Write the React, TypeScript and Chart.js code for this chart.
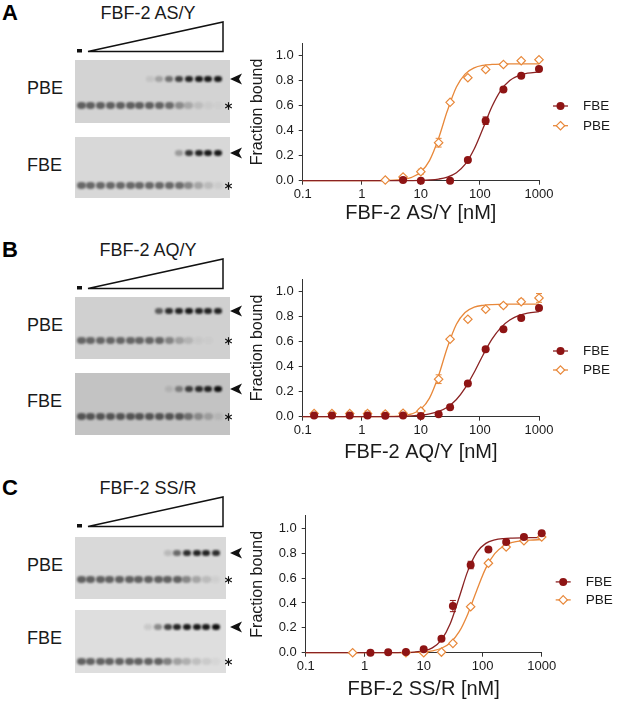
import React, { useEffect, useRef } from 'react';
import { Chart, registerables } from 'chart.js';

Chart.register(...registerables);

const FONT = '"Liberation Sans", Arial, Helvetica, sans-serif';
const TEXT = '#1a1a1a';
const FBE_COLOR = '#8e1414';
const FBE_LINE = '#8a2222';
const PBE_COLOR = '#e8883a';

// ---------------- chart data ----------------
const xTicks = [0.1, 1, 10, 100, 1000];
const fitX = [0.1, 1, 3, 5, 7, 10, 14, 20, 28, 40, 56, 80, 113, 160, 226, 320, 450, 640, 1000];

// Panel A: FBF-2 AS/Y
const concA_FBE = [5, 10, 31.25, 62.5, 125, 250, 500, 1000];
const boundA_FBE = [0.005, 0, 0, 0.165, 0.48, 0.73, 0.84, 0.893];
const errA_FBE = [0, 0, 0, 0.012, 0.03, 0.012, 0.01, 0.01];
const concA_PBE = [2.5, 5, 10, 20, 31.25, 62.5, 125, 250, 500, 1000];
const boundA_PBE = [0.005, 0.03, 0.072, 0.304, 0.627, 0.824, 0.89, 0.93, 0.96, 0.968];
const errA_PBE = [0, 0.012, 0.02, 0.035, 0.012, 0.01, 0.01, 0.01, 0.01, 0.01];
const fitA_FBE = [0, 0, 0.0002, 0.0005, 0.0011, 0.0025, 0.0057, 0.0131, 0.0285, 0.0638, 0.13, 0.253, 0.419, 0.593, 0.723, 0.801, 0.84, 0.86, 0.87];
const fitA_PBE = [0, 0.0001, 0.0025, 0.0106, 0.0269, 0.0699, 0.161, 0.34, 0.557, 0.749, 0.853, 0.903, 0.923, 0.93, 0.933, 0.934, 0.935, 0.935, 0.935];

// Panel B: FBF-2 AQ/Y
const concB = [0.156, 0.3125, 0.625, 1.25, 2.5, 5, 10, 20, 31.25, 62.5, 125, 250, 500, 1000];
const boundB_FBE = [0.01, 0.01, 0.01, 0.01, 0.008, 0.01, 0.005, 0.02, 0.075, 0.265, 0.54, 0.7, 0.79, 0.87];
const errB_FBE = [0, 0, 0, 0, 0, 0, 0, 0, 0.01, 0.012, 0.012, 0.01, 0.01, 0.012];
const boundB_PBE = [0.025, 0.025, 0.025, 0.025, 0.022, 0.028, 0.045, 0.3, 0.62, 0.78, 0.86, 0.89, 0.92, 0.95];
const errB_PBE = [0.01, 0.012, 0.012, 0.02, 0.015, 0.015, 0.015, 0.035, 0.01, 0.01, 0.01, 0.015, 0.02, 0.035];
const fitB_FBE = [0, 0.0002, 0.0012, 0.0031, 0.006, 0.0117, 0.0218, 0.0419, 0.076, 0.1376, 0.228, 0.356, 0.494, 0.62, 0.713, 0.773, 0.808, 0.828, 0.84];
const fitB_PBE = [0, 0.0001, 0.0018, 0.0081, 0.0218, 0.0607, 0.149, 0.33, 0.552, 0.74, 0.834, 0.876, 0.891, 0.897, 0.899, 0.9, 0.9, 0.9, 0.9];

// Panel C: FBF-2 SS/R
const concC_FBE = [1.25, 2.5, 5, 10, 20, 31.25, 62.5, 125, 250, 500, 1000];
const boundC_FBE = [0, 0.003, 0.005, 0.027, 0.113, 0.375, 0.705, 0.83, 0.89, 0.93, 0.96];
const errC_FBE = [0, 0, 0, 0.01, 0.015, 0.045, 0.03, 0.012, 0.01, 0.01, 0.01];
const concC_PBE = [0.625, 5, 10, 20, 31.25, 62.5, 125, 250, 500, 1000];
const boundC_PBE = [0, 0, 0, 0.005, 0.075, 0.37, 0.72, 0.85, 0.9, 0.93];
const errC_PBE = [0, 0, 0, 0, 0.01, 0.012, 0.012, 0.012, 0.01, 0.01];
const fitC_FBE = [0, 0, 0.0005, 0.002, 0.0054, 0.0152, 0.039, 0.103, 0.23, 0.446, 0.658, 0.809, 0.879, 0.907, 0.918, 0.922, 0.924, 0.925, 0.925];
const fitC_PBE = [0, 0, 0.0003, 0.0012, 0.0028, 0.0067, 0.0152, 0.0359, 0.0784, 0.169, 0.312, 0.507, 0.68, 0.796, 0.858, 0.887, 0.9, 0.906, 0.909];

// ---------------- gel band intensities (15 lanes) ----------------
const gelA_PBE_bound = [0, 0, 0, 0, 0, 0, 0, 0.08, 0.25, 0.5, 0.75, 0.9, 0.95, 0.95, 0.95];
const gelA_PBE_free = [0.8, 0.8, 0.8, 0.8, 0.8, 0.8, 0.8, 0.8, 0.78, 0.72, 0.5, 0.3, 0.15, 0.06, 0.03];
const gelA_FBE_bound = [0, 0, 0, 0, 0, 0, 0, 0, 0, 0, 0.3, 0.8, 0.9, 0.95, 0.95];
const gelA_FBE_free = [0.75, 0.75, 0.75, 0.75, 0.75, 0.75, 0.75, 0.75, 0.75, 0.75, 0.72, 0.55, 0.35, 0.2, 0.08];
const gelB_PBE_bound = [0, 0, 0, 0, 0, 0, 0, 0, 0.6, 0.85, 0.9, 0.95, 0.9, 0.9, 0.9];
const gelB_PBE_free = [0.75, 0.75, 0.75, 0.75, 0.75, 0.75, 0.75, 0.75, 0.75, 0.55, 0.35, 0.2, 0.06, 0.03, 0];
const gelB_FBE_bound = [0, 0, 0, 0, 0, 0, 0, 0, 0, 0.1, 0.4, 0.75, 0.85, 0.9, 1];
const gelB_FBE_free = [0.85, 0.85, 0.85, 0.85, 0.85, 0.85, 0.85, 0.85, 0.85, 0.85, 0.85, 0.65, 0.45, 0.3, 0.1];
const gelC_PBE_bound = [0, 0, 0, 0, 0, 0, 0, 0, 0, 0.15, 0.55, 0.85, 0.9, 0.9, 0.85];
const gelC_PBE_free = [0.8, 0.8, 0.8, 0.8, 0.8, 0.8, 0.8, 0.8, 0.8, 0.8, 0.8, 0.55, 0.35, 0.2, 0.06];
const gelC_FBE_bound = [0, 0, 0, 0, 0, 0, 0, 0.1, 0.4, 0.75, 0.9, 0.95, 0.95, 0.95, 1];
const gelC_FBE_free = [0.8, 0.8, 0.8, 0.8, 0.8, 0.8, 0.8, 0.8, 0.8, 0.6, 0.4, 0.3, 0.2, 0.12, 0.05];

// ---------------- helpers ----------------
const pts = (xs: number[], ys: number[]) => xs.map((x, i) => ({ x, y: ys[i] }));

const errorBarPlugin = {
  id: 'errorBars',
  beforeDatasetDraw(chart: any, args: any) {
    const ds = chart.data.datasets[args.index];
    const errs: number[] | undefined = ds.errors;
    if (!errs) return;
    const { ctx } = chart;
    const xs = chart.scales.x;
    const ys = chart.scales.y;
    ctx.save();
    ctx.strokeStyle = ds.borderColor;
    ctx.lineWidth = 1;
    ds.data.forEach((p: any, i: number) => {
      const e = errs[i];
      if (!e) return;
      const px = xs.getPixelForValue(p.x);
      const y1 = ys.getPixelForValue(p.y + e);
      const y2 = ys.getPixelForValue(p.y - e);
      ctx.beginPath();
      ctx.moveTo(px, y1);
      ctx.lineTo(px, y2);
      ctx.moveTo(px - 3, y1);
      ctx.lineTo(px + 3, y1);
      ctx.moveTo(px - 3, y2);
      ctx.lineTo(px + 3, y2);
      ctx.stroke();
    });
    ctx.restore();
  },
};

const sideLegendPlugin = {
  id: 'sideLegend',
  afterDraw(chart: any, _args: any, opts: any) {
    const { ctx, chartArea } = chart;
    (opts.items || []).forEach((item: any) => {
      const pds = chart.data.datasets[item.points];
      const lds = chart.data.datasets[item.line];
      const y = chartArea.top + item.dy;
      const x0 = chartArea.right + 14;
      const cx = x0 + 7.5;
      ctx.save();
      ctx.strokeStyle = lds.borderColor;
      ctx.lineWidth = 1.3;
      ctx.beginPath();
      ctx.moveTo(x0, y);
      ctx.lineTo(x0 + 15, y);
      ctx.stroke();
      if (pds.pointStyle === 'circle') {
        ctx.fillStyle = pds.backgroundColor;
        ctx.beginPath();
        ctx.arc(cx, y, pds.pointRadius, 0, Math.PI * 2);
        ctx.fill();
      } else {
        const r = pds.pointRadius;
        ctx.fillStyle = pds.backgroundColor;
        ctx.strokeStyle = pds.borderColor;
        ctx.lineWidth = pds.borderWidth;
        ctx.beginPath();
        ctx.moveTo(cx, y - r);
        ctx.lineTo(cx + r, y);
        ctx.lineTo(cx, y + r);
        ctx.lineTo(cx - r, y);
        ctx.closePath();
        ctx.fill();
        ctx.stroke();
      }
      ctx.fillStyle = TEXT;
      ctx.font = `13.5px ${FONT}`;
      ctx.textBaseline = 'middle';
      ctx.textAlign = 'left';
      ctx.fillText(pds.label, chartArea.right + 44, y + 0.5);
      ctx.restore();
    });
  },
};

type ChartProps = {
  left: number;
  top: number;
  width: number;
  height: number;
  yw: number;
  padTop: number;
  padRight: number;
  xh: number;
  title: string;
  fbe: { x: number; y: number }[];
  fbeErr: number[];
  pbe: { x: number; y: number }[];
  pbeErr: number[];
  fbeFit: { x: number; y: number }[];
  pbeFit: { x: number; y: number }[];
  legendDy: number[];
};

function BindingChart(p: ChartProps) {
  const ref = useRef<HTMLCanvasElement | null>(null);
  useEffect(() => {
    if (!ref.current) return;
    const chart = new Chart(ref.current, {
      type: 'scatter',
      data: {
        datasets: [
          {
            label: 'FBE',
            data: p.fbe,
            errors: p.fbeErr,
            pointStyle: 'circle',
            pointRadius: 4,
            backgroundColor: FBE_COLOR,
            borderColor: FBE_COLOR,
            borderWidth: 0,
            showLine: false,
            clip: false,
          } as any,
          {
            label: 'PBE',
            data: p.pbe,
            errors: p.pbeErr,
            pointStyle: 'rectRot',
            pointRadius: 4.2,
            backgroundColor: '#ffffff',
            borderColor: PBE_COLOR,
            borderWidth: 1.2,
            showLine: false,
            clip: false,
          } as any,
          {
            label: 'FBE fit',
            data: p.fbeFit,
            showLine: true,
            pointRadius: 0,
            borderColor: FBE_LINE,
            borderWidth: 1.3,
            cubicInterpolationMode: 'monotone',
            fill: false,
            clip: false,
          } as any,
          {
            label: 'PBE fit',
            data: p.pbeFit,
            showLine: true,
            pointRadius: 0,
            borderColor: PBE_COLOR,
            borderWidth: 1.3,
            cubicInterpolationMode: 'monotone',
            fill: false,
            clip: false,
          } as any,
        ],
      },
      options: {
        animation: false,
        responsive: false,
        events: [],
        layout: { padding: { top: p.padTop, right: p.padRight, left: 0, bottom: 0 } },
        plugins: {
          legend: { display: false },
          tooltip: { enabled: false },
          sideLegend: {
            items: [
              { points: 0, line: 2, dy: p.legendDy[0] },
              { points: 1, line: 3, dy: p.legendDy[1] },
            ],
          },
        } as any,
        scales: {
          x: {
            type: 'logarithmic',
            min: 0.1,
            max: 1000,
            afterBuildTicks: (s: any) => {
              s.ticks = xTicks.map((v) => ({ value: v }));
            },
            afterFit: (s: any) => {
              s.height = p.xh;
            },
            ticks: {
              callback: (v: any) => String(v),
              font: { size: 13, family: FONT },
              color: TEXT,
              padding: 2,
              maxRotation: 0,
              autoSkip: false,
            },
            grid: { drawOnChartArea: false, drawTicks: true, tickLength: 4, color: '#333' },
            border: { display: true, color: '#333', width: 1, dash: [1.5, 1.5] },
            title: {
              display: true,
              text: p.title,
              font: { size: 20, family: FONT },
              color: TEXT,
              padding: { top: 0, bottom: 0 },
            },
          },
          y: {
            type: 'linear',
            min: 0,
            max: 1.1,
            afterFit: (s: any) => {
              s.width = p.yw;
            },
            ticks: {
              stepSize: 0.2,
              includeBounds: false,
              callback: (v: any) => Number(v).toFixed(1),
              font: { size: 13, family: FONT },
              color: TEXT,
              padding: 5,
            },
            grid: { drawOnChartArea: false, drawTicks: true, tickLength: 4, color: '#333' },
            border: { display: true, color: '#333', width: 1 },
            title: {
              display: true,
              text: 'Fraction bound',
              font: { size: 16, family: FONT },
              color: TEXT,
              padding: { top: 8.4, bottom: 0 },
            },
          },
        } as any,
      },
      plugins: [errorBarPlugin, sideLegendPlugin],
    } as any);
    return () => chart.destroy();
  }, []);
  return (
    <canvas
      ref={ref}
      width={p.width}
      height={p.height}
      style={{ position: 'absolute', left: p.left, top: p.top, width: p.width, height: p.height }}
    />
  );
}

// ---------------- gel drawing ----------------
type GelSpec = {
  label: string;
  top: number;
  height: number;
  width: number;
  bg: string;
  boundY: number;
  freeY: number;
  bound: number[];
  free: number[];
  step: number;
};

function Gel({ g, dy }: { g: GelSpec; dy: number }) {
  const bands: React.ReactNode[] = [];
  g.bound.forEach((a, i) => {
    if (a <= 0) return;
    bands.push(
      <div
        key={'b' + i}
        style={{
          position: 'absolute',
          left: 6 + i * g.step - 4,
          top: g.boundY - 3,
          width: 8,
          height: 6,
          borderRadius: '45%',
          background: `rgba(15,15,15,${a})`,
          filter: 'blur(0.9px)',
        }}
      />
    );
  });
  g.free.forEach((a, i) => {
    if (a <= 0) return;
    bands.push(
      <div
        key={'f' + i}
        style={{
          position: 'absolute',
          left: 6 + i * g.step - 4.5,
          top: g.freeY - 3.5,
          width: 9,
          height: 7,
          borderRadius: '45%',
          background: `rgba(40,40,40,${a * 0.85})`,
          filter: 'blur(1px)',
        }}
      />
    );
  });
  return (
    <>
      <div
        style={{
          position: 'absolute',
          left: 75,
          top: dy + g.top,
          width: g.width,
          height: g.height,
          background: g.bg,
          overflow: 'hidden',
        }}
      >
        {bands}
      </div>
      <div
        style={{
          position: 'absolute',
          left: 27,
          top: dy + g.top + 29 - 11,
          height: 22,
          lineHeight: '22px',
          font: `18px ${FONT}`,
          color: TEXT,
          whiteSpace: 'nowrap',
        }}
      >
        {g.label}
      </div>
    </>
  );
}

function Asterisk({ x, y }: { x: number; y: number }) {
  const r = 3.8;
  const lines = [90, 30, -30].map((deg, i) => {
    const a = (deg * Math.PI) / 180;
    return (
      <line
        key={i}
        x1={x - r * Math.cos(a)}
        y1={y - r * Math.sin(a)}
        x2={x + r * Math.cos(a)}
        y2={y + r * Math.sin(a)}
        stroke="#111"
        strokeWidth={1.1}
      />
    );
  });
  return <>{lines}</>;
}

function Arrow({ x, y }: { x: number; y: number }) {
  return <polygon points={`${x},${y} ${x + 12},${y - 5.5} ${x + 9},${y} ${x + 12},${y + 5.5}`} fill="#111" />;
}

function GelPanel({ dy, letter, title, gels }: { dy: number; letter: string; title: string; gels: GelSpec[] }) {
  return (
    <>
      <div
        style={{
          position: 'absolute',
          left: 2,
          top: dy,
          height: 26,
          lineHeight: '26px',
          font: `bold 22px ${FONT}`,
          color: '#000',
        }}
      >
        {letter}
      </div>
      <div
        style={{
          position: 'absolute',
          left: 48,
          width: 200,
          top: dy + 3,
          height: 20,
          lineHeight: '20px',
          textAlign: 'center',
          font: `18px ${FONT}`,
          color: TEXT,
          whiteSpace: 'nowrap',
        }}
      >
        {title}
      </div>
      {gels.map((g, i) => (
        <Gel key={i} g={g} dy={dy} />
      ))}
      <svg
        width={250}
        height={210}
        style={{ position: 'absolute', left: 0, top: dy, overflow: 'visible' }}
      >
        <rect x={77} y={49} width={5} height={3.5} fill="#111" />
        <polygon points="88,51.5 223,51.5 223,22" fill="#fff" stroke="#111" strokeWidth={1.5} strokeLinejoin="miter" />
        {gels.map((g, i) => (
          <React.Fragment key={i}>
            <Arrow x={230} y={g.top + g.boundY} />
            <Asterisk x={228.5} y={g.top + g.freeY + 1} />
          </React.Fragment>
        ))}
      </svg>
    </>
  );
}

export default function App() {
  const fitPts = (ys: number[]) => pts(fitX, ys);
  return (
    <div
      style={{
        position: 'absolute',
        left: 0,
        top: 0,
        width: 617,
        height: 701,
        background: '#fff',
        overflow: 'hidden',
        fontFamily: FONT,
      }}
    >
      <GelPanel
        dy={0}
        letter="A"
        title="FBF-2 AS/Y"
        gels={[
          { label: 'PBE', top: 60, height: 63, width: 155, bg: '#d3d3d3', boundY: 19, freeY: 45, bound: gelA_PBE_bound, free: gelA_PBE_free, step: 9.8 },
          { label: 'FBE', top: 137, height: 61, width: 155, bg: '#d8d8d8', boundY: 16, freeY: 48, bound: gelA_FBE_bound, free: gelA_FBE_free, step: 9.8 },
        ]}
      />
      <GelPanel
        dy={237}
        letter="B"
        title="FBF-2 AQ/Y"
        gels={[
          { label: 'PBE', top: 60, height: 62, width: 155, bg: '#d0d0d0', boundY: 14, freeY: 43, bound: gelB_PBE_bound, free: gelB_PBE_free, step: 9.8 },
          { label: 'FBE', top: 136, height: 62, width: 155, bg: '#c3c3c3', boundY: 16, freeY: 43, bound: gelB_FBE_bound, free: gelB_FBE_free, step: 9.8 },
        ]}
      />
      <GelPanel
        dy={475}
        letter="C"
        title="FBF-2 SS/R"
        gels={[
          { label: 'PBE', top: 62, height: 62, width: 151, bg: '#d9d9d9', boundY: 16, freeY: 42, bound: gelC_PBE_bound, free: gelC_PBE_free, step: 9.63 },
          { label: 'FBE', top: 135, height: 63, width: 151, bg: '#dedede', boundY: 17, freeY: 51, bound: gelC_FBE_bound, free: gelC_FBE_free, step: 9.63 },
        ]}
      />

      <BindingChart
        left={240}
        top={30}
        width={377}
        height={195}
        yw={62.7}
        padTop={13.2}
        padRight={78}
        xh={44.3}
        title="FBF-2 AS/Y [nM]"
        fbe={pts(concA_FBE, boundA_FBE)}
        fbeErr={errA_FBE}
        pbe={pts(concA_PBE, boundA_PBE)}
        pbeErr={errA_PBE}
        fbeFit={fitPts(fitA_FBE)}
        pbeFit={fitPts(fitA_PBE)}
        legendDy={[62.8, 82.5]}
      />
      <BindingChart
        left={240}
        top={266}
        width={377}
        height={198}
        yw={62.7}
        padTop={13.2}
        padRight={78}
        xh={47.3}
        title="FBF-2 AQ/Y [nM]"
        fbe={pts(concB, boundB_FBE)}
        fbeErr={errB_FBE}
        pbe={pts(concB, boundB_PBE)}
        pbeErr={errB_PBE}
        fbeFit={fitPts(fitB_FBE)}
        pbeFit={fitPts(fitB_PBE)}
        legendDy={[71.8, 90.8]}
      />
      <BindingChart
        left={240}
        top={503}
        width={377}
        height={198}
        yw={65.7}
        padTop={12.9}
        padRight={75.3}
        xh={48.3}
        title="FBF-2 SS/R [nM]"
        fbe={pts(concC_FBE, boundC_FBE)}
        fbeErr={errC_FBE}
        pbe={pts(concC_PBE, boundC_PBE)}
        pbeErr={errC_PBE}
        fbeFit={fitPts(fitC_FBE)}
        pbeFit={fitPts(fitC_PBE)}
        legendDy={[66, 84]}
      />
    </div>
  );
}
